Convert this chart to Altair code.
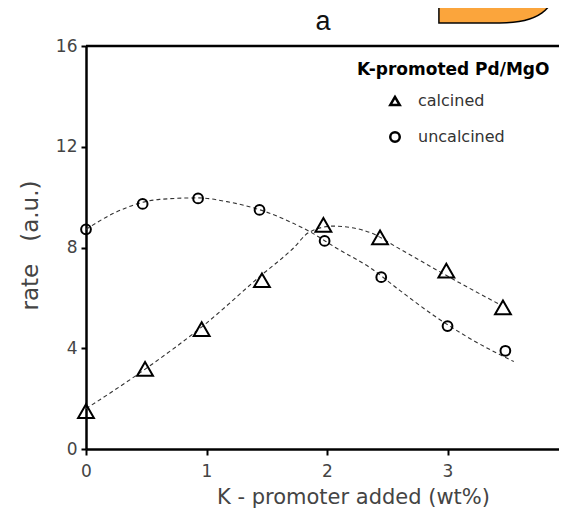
import altair as alt
import pandas as pd

# ---- data ----
series_names = ["calcined", "uncalcined"]

x_calcined = [0.0, 0.49, 0.96, 1.46, 1.97, 2.44, 2.99, 3.46]
rate_calcined = [1.5, 3.18, 4.76, 6.7, 8.9, 8.4, 7.08, 5.62]

x_uncalcined = [0.0, 0.47, 0.93, 1.44, 1.98, 2.45, 3.0, 3.48]
rate_uncalcined = [8.72, 9.73, 9.95, 9.49, 8.26, 6.82, 4.88, 3.9]

# dashed trend curves
fit_calcined_x = [0.0, 0.5, 1.0, 1.44, 1.72, 1.85, 2.05, 2.19, 2.37, 2.6, 3.16, 3.44]
fit_calcined_y = [1.6, 3.2, 5.0, 6.84, 7.97, 8.6, 8.85, 8.8, 8.57, 7.95, 6.44, 5.72]
fit_uncalcined_x = [0.0, 0.23, 0.61, 0.93, 1.17, 1.44, 1.72, 1.85, 2.08, 2.36, 2.6, 2.88, 3.16, 3.55]
fit_uncalcined_y = [8.72, 9.36, 9.91, 9.97, 9.82, 9.5, 8.96, 8.65, 7.97, 7.19, 6.31, 5.32, 4.46, 3.47]

x_ticks = [0, 1, 2, 3]
y_ticks = [0, 4, 8, 12, 16]
x_domain = [0, 3.925]
y_domain = [0, 16]

pts = pd.DataFrame(
    {
        "x": x_calcined + x_uncalcined,
        "rate": rate_calcined + rate_uncalcined,
        "series": [series_names[0]] * len(x_calcined) + [series_names[1]] * len(x_uncalcined),
    }
)
fits = pd.DataFrame(
    {
        "x": fit_calcined_x + fit_uncalcined_x,
        "rate": fit_calcined_y + fit_uncalcined_y,
        "series": [series_names[0]] * len(fit_calcined_x) + [series_names[1]] * len(fit_uncalcined_x),
    }
)
frame_top = pd.DataFrame({"rate": [y_domain[1]]})
texts = pd.DataFrame({"t": ["Be", "a"]})

FONT = "DejaVu Sans"

xscale = alt.Scale(domain=x_domain, nice=False, zero=False)
yscale = alt.Scale(domain=y_domain, nice=False)

x_axis = alt.Axis(
    values=x_ticks, format="d", grid=False, title="K - promoter added (wt%)",
    domainColor="black", domainWidth=2.5, tickColor="black", tickWidth=2, tickSize=6,
    labelFont=FONT, labelFontSize=17, labelColor="#444", labelPadding=8, labelFlush=False,
    titleFont=FONT, titleFontSize=21, titleFontWeight="normal", titleColor="#444",
    titleX=267, titleY=48, titleBaseline="middle",
)
y_axis = alt.Axis(
    values=y_ticks, format="d", grid=False, title="rate\u00a0\u00a0\u00a0(a.u.)",
    domainColor="black", domainWidth=2.5, tickColor="black", tickWidth=2, tickSize=5,
    labelFont=FONT, labelFontSize=17, labelColor="#444", labelPadding=4, labelFlush=False,
    titleFont=FONT, titleFontSize=23, titleFontWeight="normal", titleColor="#444",
    titleX=-56, titleY=199, titleBaseline="middle",
)

shape_scale = alt.Scale(domain=series_names, range=["triangle-up", "circle"])
shape_legend = alt.Legend(
    title="K-promoted Pd/MgO", orient="none", legendX=271, legendY=16,
    titleFont=FONT, titleFontSize=17, titleFontWeight="bold", titleColor="black",
    titlePadding=14, titleLimit=400, labelFont=FONT, labelFontSize=16, labelColor="#333",
    labelLimit=300, symbolSize=90, symbolStrokeWidth=2.5, symbolStrokeColor="black",
    symbolOffset=30, labelOffset=15, rowPadding=16, padding=0,
)

lines = alt.Chart(fits).mark_line(
    interpolate="monotone", strokeDash=[4, 3], strokeWidth=1.1, color="#333"
).encode(
    x=alt.X("x:Q", scale=xscale, axis=x_axis),
    y=alt.Y("rate:Q", scale=yscale, axis=y_axis),
    detail="series:N",
)


def point_layer(name, size):
    return alt.Chart(pts).transform_filter(
        alt.datum.series == name
    ).mark_point(
        filled=False, color="black", strokeWidth=2, opacity=1, size=size
    ).encode(
        x=alt.X("x:Q", scale=xscale),
        y=alt.Y("rate:Q", scale=yscale),
        shape=alt.Shape("series:N", scale=shape_scale, legend=shape_legend),
    )


tri_points = point_layer(series_names[0], 250)
circ_points = point_layer(series_names[1], 95)

top_rule = alt.Chart(frame_top).mark_rule(color="black", strokeWidth=2.5).encode(
    y=alt.Y("rate:Q", scale=yscale)
)

logo_text = alt.Chart(texts).transform_filter(alt.datum.t == "Be").mark_text(
    align="left", baseline="alphabetic", fontSize=195, font=FONT, fontWeight="bold",
    color="#FBA53C", stroke="black", strokeWidth=1.5,
).encode(text="t:N", x=alt.value(335), y=alt.value(-23))

title_text = alt.Chart(texts).transform_filter(alt.datum.t == "a").mark_text(
    align="center", baseline="alphabetic", fontSize=27, font="Liberation Sans",
    color="#111",
).encode(text="t:N", x=alt.value(237), y=alt.value(-16))

chart = alt.layer(top_rule, lines, tri_points, circ_points, logo_text, title_text).properties(
    width=473,
    height=403,
    autosize=alt.AutoSizeParams(type="none"),
    padding={"left": 78, "top": 38, "right": 0, "bottom": 60},
).configure_view(strokeWidth=0).configure(background="white")

chart.save("out.html", embed_options={"renderer": "svg", "actions": False})
